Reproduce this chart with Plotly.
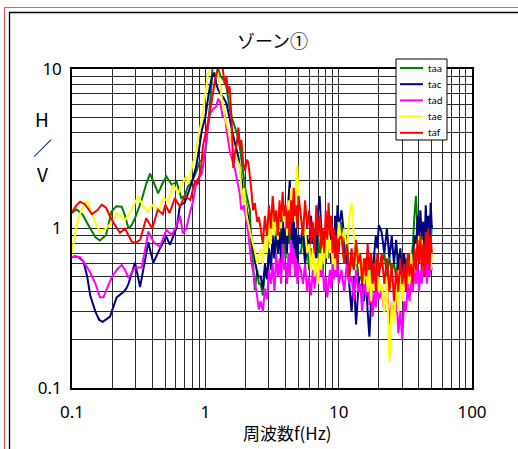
import plotly.graph_objects as go

# ---------------- data ----------------
series_names = ["taa", "tac", "tad", "tae", "taf"]
series_colors = ["#008000", "#000080", "#FF00FF", "#FFFF00", "#FF0000"]

# common high-frequency sampling (Hz)
hi_f = [2.6, 2.7, 2.8, 2.9, 3.0, 3.1, 3.2, 3.3, 3.4, 3.5, 3.6, 3.7, 3.8, 3.9, 4.0, 4.1, 4.2, 4.3, 4.4, 4.5, 4.6, 4.7, 4.8, 4.9, 5.0,
        5.2, 5.4, 5.6, 5.8, 6.0, 6.2, 6.4, 6.6, 6.8, 7.0, 7.2, 7.4, 7.6, 7.8, 8.0, 8.2, 8.4, 8.6, 8.8, 9.0, 9.2, 9.4, 9.6, 9.8, 10.0,
        10.5, 11, 11.5, 12, 12.5, 13, 13.5, 14, 14.5, 15, 15.5, 16, 16.5, 17, 17.5, 18, 18.5, 19, 19.5, 20,
        21, 22, 23, 24, 25, 26, 27, 28, 29, 30, 31, 32, 33, 34, 35, 36, 37, 38, 39, 40, 41, 42, 43, 44, 45, 46, 47, 48, 49, 50]

taa_lo_f = [0.1, 0.108, 0.12, 0.137, 0.15, 0.162, 0.18, 0.198, 0.215, 0.236, 0.25, 0.265, 0.28, 0.297, 0.333, 0.36, 0.385, 0.41, 0.443, 0.475, 0.51, 0.56, 0.61, 0.66, 0.7, 0.74, 0.81, 0.86, 0.9, 0.95, 1.0, 1.05, 1.1, 1.13, 1.2, 1.25, 1.3, 1.38, 1.44, 1.53, 1.6, 1.67, 1.75, 1.81, 1.9, 2.0, 2.08, 2.16, 2.2, 2.27, 2.35, 2.45, 2.52]
taa_lo_v = [1.25, 1.32, 1.22, 1.0, 0.88, 0.84, 0.91, 1.28, 1.38, 1.37, 1.2, 1.0, 1.05, 1.16, 1.51, 1.9, 2.21, 1.95, 1.66, 1.9, 2.12, 1.88, 1.96, 1.55, 1.6, 1.83, 2.05, 2.3, 2.6, 2.7, 3.0, 4.5, 7.0, 10.0, 11.0, 10.0, 9.0, 8.5, 7.7, 5.5, 4.8, 4.3, 3.8, 3.3, 2.4, 1.75, 1.5, 1.3, 0.85, 0.64, 0.41, 0.55, 0.45]
taa_hi_v = [0.45, 0.38, 0.55, 0.5, 0.7, 0.6, 0.85, 0.65, 0.95, 0.7, 0.8, 1.0, 0.75, 0.9, 0.65, 1.1, 0.8, 0.95, 0.7, 1.05, 0.75, 0.9, 0.65, 0.85, 0.7,
            0.7, 0.9, 0.6, 0.8, 0.55, 0.75, 0.6, 0.85, 0.65, 0.9, 0.7, 0.8, 0.55, 0.7, 0.6, 0.8, 0.65, 0.9, 0.7, 1.0, 0.75, 0.85, 0.6, 0.8, 0.7,
            1.1, 0.6, 0.9, 0.5, 0.65, 0.55, 0.75, 0.5, 0.6, 0.45, 0.55, 0.65, 0.5, 0.6, 0.45, 0.55, 0.7, 0.5, 0.65, 0.55,
            0.6, 0.7, 0.5, 0.65, 0.55, 0.6, 0.5, 0.7, 0.55, 0.6, 0.5, 0.65, 0.55, 0.7, 0.6, 0.8, 1.2, 1.6, 1.0, 0.8, 0.9, 0.7, 1.1, 0.8, 1.0, 0.75, 0.9, 1.2, 0.8, 1.05]

tac_lo_f = [0.1, 0.105, 0.112, 0.122, 0.13, 0.137, 0.15, 0.16, 0.17, 0.193, 0.216, 0.243, 0.255, 0.265, 0.297, 0.324, 0.355, 0.373, 0.407, 0.457, 0.51, 0.543, 0.61, 0.646, 0.7, 0.75, 0.8, 0.85, 0.89, 0.94, 1.0, 1.06, 1.12, 1.17, 1.21, 1.25, 1.3, 1.37, 1.44, 1.53, 1.62, 1.77, 1.9, 2.0, 2.16, 2.35, 2.47]
tac_lo_v = [0.66, 0.67, 0.66, 0.62, 0.5, 0.38, 0.3, 0.267, 0.26, 0.28, 0.37, 0.4, 0.42, 0.45, 0.61, 0.43, 0.65, 0.82, 0.61, 0.75, 0.89, 0.79, 1.02, 1.4, 1.45, 1.7, 2.0, 2.4, 3.0, 4.1, 5.0, 7.0, 8.9, 9.5, 8.0, 7.4, 7.0, 6.6, 6.1, 4.8, 3.8, 2.8, 1.85, 1.5, 1.0, 0.64, 0.5]
tac_hi_v = [0.5, 0.42, 0.6, 0.48, 0.75, 0.55, 0.9, 0.65, 1.1, 0.7, 0.95, 0.6, 1.2, 0.8, 1.0, 0.7, 1.5, 2.0, 1.1, 0.8, 1.3, 0.7, 1.0, 0.6, 0.9,
            0.8, 1.1, 0.6, 0.9, 0.7, 1.2, 0.8, 1.0, 0.65, 1.3, 1.6, 1.0, 0.7, 0.9, 0.6, 1.1, 0.75, 0.95, 0.6, 0.85, 0.55, 1.2, 0.8, 1.4, 1.0,
            1.3, 0.9, 0.6, 0.45, 0.3, 0.5, 0.25, 0.4, 0.6, 0.45, 0.35, 0.5, 0.3, 0.21, 0.35, 0.55, 0.7, 0.9, 0.75, 1.05,
            0.95, 0.7, 1.0, 0.65, 0.9, 0.6, 0.85, 0.55, 0.75, 0.5, 0.7, 0.45, 0.6, 0.5, 0.7, 0.6, 0.9, 0.7, 1.2, 0.8, 1.3, 0.9, 1.1, 0.75, 1.4, 0.9, 1.2, 0.8, 1.45, 1.0]

tad_lo_f = [0.1, 0.105, 0.115, 0.125, 0.137, 0.15, 0.162, 0.172, 0.185, 0.2, 0.22, 0.236, 0.25, 0.265, 0.297, 0.333, 0.355, 0.373, 0.41, 0.457, 0.51, 0.56, 0.61, 0.646, 0.68, 0.72, 0.77, 0.81, 0.86, 0.94, 0.98, 1.03, 1.08, 1.14, 1.2, 1.25, 1.29, 1.35, 1.4, 1.44, 1.53, 1.67, 1.81, 1.86, 1.95, 2.1, 2.2, 2.42, 2.52]
tad_lo_v = [0.66, 0.67, 0.66, 0.6, 0.53, 0.45, 0.37, 0.37, 0.43, 0.5, 0.56, 0.59, 0.55, 0.49, 0.57, 0.57, 0.75, 0.96, 0.82, 0.77, 0.98, 0.91, 1.05, 1.2, 0.93, 1.0, 1.28, 1.48, 2.0, 2.2, 2.7, 3.9, 5.2, 5.6, 5.8, 6.5, 6.2, 5.0, 5.2, 4.2, 3.0, 2.33, 1.66, 1.31, 1.4, 0.93, 0.64, 0.4, 0.31]
tad_hi_v = [0.35, 0.3, 0.42, 0.36, 0.55, 0.45, 0.6, 0.4, 0.7, 0.5, 0.65, 0.45, 0.8, 0.55, 0.6, 0.45, 0.7, 0.5, 0.85, 0.6, 0.75, 0.5, 0.65, 0.45, 0.6,
            0.55, 0.45, 0.6, 0.4, 0.5, 0.38, 0.55, 0.42, 0.6, 0.45, 0.65, 0.5, 0.55, 0.4, 0.5, 0.37, 0.45, 0.55, 0.42, 0.6, 0.48, 0.65, 0.5, 0.6, 0.45,
            0.55, 0.4, 0.6, 0.45, 0.5, 0.35, 0.55, 0.4, 0.45, 0.3, 0.5, 0.38, 0.55, 0.33, 0.45, 0.28, 0.4, 0.32, 0.5, 0.36,
            0.4, 0.3, 0.45, 0.25, 0.35, 0.28, 0.42, 0.22, 0.3, 0.2, 0.35, 0.3, 0.45, 0.35, 0.5, 0.4, 0.55, 0.45, 0.6, 0.4, 0.55, 0.45, 0.65, 0.5, 0.6, 0.45, 0.7, 0.5, 0.6, 0.55]

tae_lo_f = [0.1, 0.105, 0.11, 0.115, 0.125, 0.13, 0.137, 0.15, 0.162, 0.18, 0.2, 0.216, 0.25, 0.28, 0.314, 0.343, 0.37, 0.407, 0.443, 0.484, 0.526, 0.575, 0.626, 0.67, 0.72, 0.75, 0.8, 0.85, 0.9, 0.95, 1.0, 1.05, 1.08, 1.15, 1.2, 1.25, 1.3, 1.4, 1.53, 1.62, 1.81, 1.9, 1.95, 2.05, 2.2, 2.35, 2.45]
tae_lo_v = [0.7, 0.9, 1.1, 1.24, 1.45, 1.48, 1.31, 1.1, 0.95, 1.0, 1.1, 1.25, 1.13, 1.31, 1.6, 1.37, 1.28, 1.41, 1.28, 1.55, 1.48, 1.88, 1.66, 1.9, 2.12, 1.9, 2.5, 3.0, 4.0, 5.0, 7.0, 9.5, 11.0, 12.0, 10.5, 9.0, 7.4, 5.0, 3.77, 3.1, 2.45, 1.44, 1.8, 1.18, 0.9, 0.72, 0.6]
tae_hi_v = [0.75, 0.6, 0.9, 0.7, 1.1, 0.8, 1.3, 0.9, 1.2, 0.85, 1.4, 1.0, 1.6, 1.1, 1.3, 0.9, 1.5, 1.2, 1.8, 1.3, 1.6, 1.1, 2.0, 2.5, 1.5,
            1.3, 0.9, 1.0, 0.7, 0.8, 0.55, 0.75, 0.5, 0.65, 0.45, 0.7, 0.55, 0.8, 0.6, 0.9, 0.65, 1.0, 0.7, 0.85, 0.6, 0.75, 0.55, 0.9, 0.65, 1.1,
            0.8, 1.0, 0.7, 1.2, 1.45, 0.9, 0.6, 0.75, 0.5, 0.65, 0.45, 0.6, 0.4, 0.55, 0.35, 0.5, 0.6, 0.45, 0.55, 0.4,
            0.45, 0.3, 0.5, 0.145, 0.35, 0.25, 0.45, 0.3, 0.55, 0.35, 0.5, 0.4, 0.6, 0.45, 0.7, 0.5, 0.65, 0.8, 0.6, 0.9, 0.65, 0.85, 0.55, 0.75, 0.6, 0.9, 0.65, 0.8, 0.55, 0.7]

taf_lo_f = [0.1, 0.108, 0.115, 0.125, 0.141, 0.155, 0.167, 0.18, 0.193, 0.21, 0.229, 0.25, 0.28, 0.3, 0.325, 0.36, 0.4, 0.44, 0.48, 0.5, 0.54, 0.59, 0.646, 0.7, 0.77, 0.84, 0.88, 0.93, 0.96, 1.03, 1.08, 1.14, 1.18, 1.22, 1.26, 1.3, 1.35, 1.4, 1.44, 1.48, 1.52, 1.57, 1.62, 1.67, 1.72, 1.77, 1.82, 1.86, 1.92, 1.98, 2.05, 2.1, 2.2, 2.28, 2.35, 2.45, 2.52]
taf_lo_v = [1.26, 1.4, 1.47, 1.42, 1.23, 1.3, 1.41, 1.35, 1.19, 1.05, 0.94, 1.0, 0.83, 0.81, 0.85, 1.16, 1.0, 1.31, 1.23, 1.41, 1.25, 1.55, 1.37, 1.6, 1.51, 2.0, 1.9, 2.45, 3.3, 4.35, 5.3, 7.0, 8.5, 9.4, 11.0, 10.5, 10.0, 8.0, 9.0, 7.0, 7.8, 5.0, 2.4, 3.0, 3.4, 4.3, 3.2, 3.6, 2.6, 2.3, 2.7, 2.6, 1.83, 1.3, 1.44, 1.1, 1.18]
taf_hi_v = [1.0, 0.8, 1.2, 0.9, 1.4, 1.0, 1.6, 1.1, 1.3, 0.9, 1.5, 1.1, 1.7, 1.2, 1.4, 1.0, 1.3, 0.9, 1.5, 1.1, 1.8, 1.2, 1.4, 1.0, 1.6,
            1.2, 0.9, 1.5, 1.0, 1.3, 0.8, 1.1, 0.7, 1.4, 0.9, 1.2, 0.75, 1.0, 0.7, 1.3, 0.85, 1.45, 0.9, 1.2, 0.7, 1.0, 0.65, 0.9, 0.6, 0.85,
            0.9, 0.6, 0.8, 0.5, 0.75, 0.55, 0.85, 0.6, 0.7, 0.45, 0.65, 0.5, 0.8, 0.55, 0.7, 0.45, 0.6, 0.4, 0.7, 0.5,
            0.7, 0.45, 0.65, 0.4, 0.6, 0.35, 0.55, 0.4, 0.65, 0.45, 0.6, 0.4, 0.7, 0.5, 0.6, 0.45, 0.75, 0.55, 0.85, 0.6, 0.9, 0.55, 0.8, 0.5, 0.95, 0.6, 1.0, 0.55, 0.9, 0.7]

x_decades = [0.1, 1, 10, 100]
y_decades = [0.1, 1, 10]
x_tick_labels = ["0.1", "1", "10", "100"]
y_tick_labels = ["0.1", "1", "10"]

title_text = "ゾーン①"
x_title = "周波数f(Hz)"
y_title_parts = ["H", "／", "V"]

# ---------------- figure ----------------
lo_f = [taa_lo_f, tac_lo_f, tad_lo_f, tae_lo_f, taf_lo_f]
lo_v = [taa_lo_v, tac_lo_v, tad_lo_v, tae_lo_v, taf_lo_v]
hi_v = [taa_hi_v, tac_hi_v, tad_hi_v, tae_hi_v, taf_hi_v]

fig = go.Figure()
for name, color, lf, lv, hv in zip(series_names, series_colors, lo_f, lo_v, hi_v):
    assert len(lf) == len(lv), name
    assert len(hv) == len(hi_f), name
    fig.add_trace(go.Scatter(
        x=lf + hi_f, y=lv + hv, mode="lines", name=name, showlegend=False,
        line=dict(color=color, width=2, simplify=False),
    ))

# grid at 1..9 of every decade, labels only at decades
x_grid = [m * d for d in x_decades[:-1] for m in range(1, 10)] + [x_decades[-1]]
x_text = [x_tick_labels[x_decades.index(v)] if v in x_decades else "" for v in x_grid]
y_grid = [m * d for d in y_decades[:-1] for m in range(1, 10)] + [y_decades[-1]]
y_text = [y_tick_labels[y_decades.index(v)] if v in y_decades else "" for v in y_grid]

tick_font = dict(family="Noto Sans", size=17, color="black")
fig.update_xaxes(type="log", range=[-1, 2], tickmode="array", tickvals=x_grid, ticktext=x_text,
                 showgrid=True, gridcolor="#2a2a2a", gridwidth=1, ticks="", tickfont=tick_font,
                 showline=True, linecolor="black", linewidth=1.5, mirror=True, zeroline=False,
                 ticklabelstandoff=8, automargin=False)
fig.update_yaxes(type="log", range=[-1, 1], tickmode="array", tickvals=y_grid, ticktext=y_text,
                 showgrid=True, gridcolor="#2a2a2a", gridwidth=1, ticks="", tickfont=tick_font,
                 showline=True, linecolor="black", linewidth=1.5, mirror=True, zeroline=False,
                 ticklabelstandoff=5, automargin=False)

L, T, W, H = 72, 69, 400, 319
FW, FH = 518, 449
def px(x):
    return (x - L) / W
def py(y):
    return (T + H - y) / H

cjk = "Noto Sans CJK JP"
ann = [
    dict(text=title_text, x=0.5, y=py(40), xref="paper", yref="paper", showarrow=False,
         xanchor="center", yanchor="middle", font=dict(family=cjk, size=18, color="black")),
    dict(text=x_title, x=px(287), y=py(432), xref="paper", yref="paper", showarrow=False,
         xanchor="center", yanchor="middle", font=dict(family=cjk, size=17, color="black")),
]
for part, yy in zip(y_title_parts, [118, 147, 173]):
    ann.append(dict(text=part, x=px(42), y=py(yy), xref="paper", yref="paper", showarrow=False,
                    xanchor="center", yanchor="middle", font=dict(family=cjk, size=19, color="black")))

shapes = [
    dict(type="rect", xref="paper", yref="paper", x0=px(4.5), y0=py(470), x1=px(540), y1=py(7.5),
         line=dict(color="#EE5A5A", width=1.2), fillcolor="rgba(0,0,0,0)"),
    dict(type="rect", xref="paper", yref="paper", x0=px(9.5), y0=py(470), x1=px(540), y1=py(12.5),
         line=dict(color="black", width=1.3), fillcolor="rgba(0,0,0,0)"),
    # legend box
    dict(type="rect", xref="paper", yref="paper", x0=px(396), y0=py(140), x1=px(447), y1=py(59),
         line=dict(color="black", width=1), fillcolor="white", layer="above"),
]
# legend entries
for i, (name, color) in enumerate(zip(series_names, series_colors)):
    yy = 68 + 16.2 * i
    shapes.append(dict(type="line", xref="paper", yref="paper", x0=px(400), x1=px(423),
                       y0=py(yy), y1=py(yy), line=dict(color=color, width=2), layer="above"))
    ann.append(dict(text=name, x=px(426), y=py(yy), xref="paper", yref="paper", showarrow=False,
                    xanchor="left", yanchor="middle",
                    font=dict(family="Noto Sans", size=9.5, color="black")))

fig.update_layout(
    width=FW, height=FH,
    margin=dict(l=L, r=FW - L - W, t=T, b=FH - T - H, pad=0, autoexpand=False),
    paper_bgcolor="white", plot_bgcolor="white",
    showlegend=False,
    annotations=ann, shapes=shapes,
)

fig.write_html("out.html", config={"displayModeBar": False},
               post_script="document.body.style.margin='0';")
